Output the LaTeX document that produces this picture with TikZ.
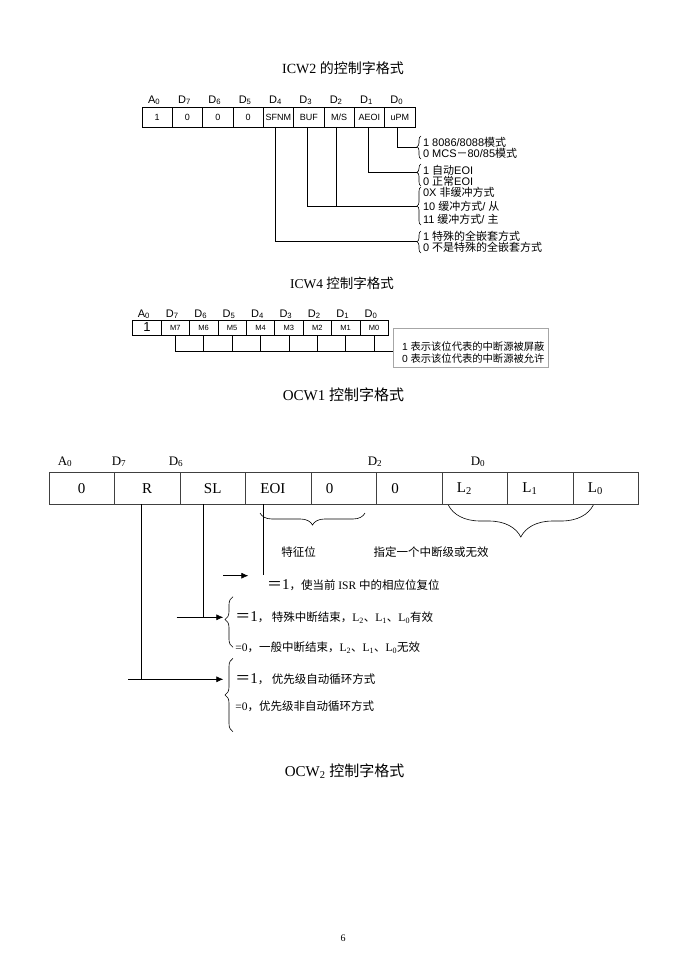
\documentclass[tikz,border=0pt]{standalone}
\usepackage{fontspec}
\setmainfont{Liberation Serif}
\newfontfamily\cjk{Noto Sans CJK SC}
\newfontfamily\arial{Liberation Sans}
\usetikzlibrary{positioning, arrows.meta, decorations.pathreplacing, calc}
\newcommand{\zh}[1]{{\cjk #1}}
\newcommand{\fsz}[1]{\fontsize{#1}{#1}\selectfont}

\begin{document}
\begin{tikzpicture}[
    x=1pt, y=-1pt,
    line width=0.6pt,
    cellA/.style={draw, minimum width=30.33pt, minimum height=20pt, inner sep=0pt, outer sep=0pt, font=\arial\fsz{9}},
    cellB/.style={draw, minimum width=28.4pt, minimum height=15pt, inner sep=0pt, outer sep=0pt, font=\arial\fsz{7.5}},
    cellC/.style={draw=black!75, minimum width=65.48pt, minimum height=32pt, inner sep=0pt, outer sep=0pt, font=\fsz{15}},
    cellL/.style={cellC, align=left, text width=35.48pt, inner xsep=15pt},
    hdrA/.style={font=\arial\fsz{11}, inner sep=0pt, anchor=base},
    hdrC/.style={font=\fsz{13}, inner sep=0pt, anchor=base},
    note/.style={font=\arial\fsz{11}, anchor=west, inner sep=0pt},
    noteB/.style={font=\arial\fsz{10.3}, anchor=west, inner sep=0pt},
    rule/.style={font=\fsz{11.5}, anchor=west, inner sep=0pt},
    cjkt/.style={font=\cjk\fsz{11.5}, inner sep=0pt},
    title/.style={font=\fsz{14}},
    brc/.style={decorate, decoration={brace, amplitude=4pt}},
    arr/.style={-{Latex[length=7pt,width=6pt]}}
]
\useasboundingbox (0,0) rectangle (688,971);

\node[title] (t1) at (343,68) {ICW2 \zh{的控制字格式}};
\foreach \t [count=\i] in {1,0,0,0,SFNM,BUF,{M/S},AEOI,uPM}
  \node[cellA] (a\i) at ({142+30.33*(\i-0.5)},117) {\t};
\foreach \h/\s [count=\i] in {A/0,D/7,D/6,D/5,D/4,D/3,D/2,D/1,D/0}
  \node[hdrA] (ha\i) at ([xshift=-3pt,yshift=4pt]a\i.north) {\h\textsubscript{\s}};
\coordinate (k1) at (417,147);
\coordinate (k2) at (417,172.3);
\coordinate (k3) at (417,206.7);
\coordinate (k4) at (417,241.7);
\draw ([xshift=-3pt]a9.south) |- (k1);
\draw ([xshift=-1pt]a8.south) |- (k2);
\draw ([xshift=-1.5pt]a6.south) |- (k3);
\draw ([xshift=-3pt]a7.south) -- ([xshift=-3pt]a7.south |- k3);
\draw ([xshift=-3.5pt]a5.south) |- (k4);
\draw[brc, decoration={aspect=0.53}] (421,159) -- (421,136);
\draw[brc, decoration={aspect=0.62}] (421,186) -- (421,164);
\draw[brc] (421,225) -- (421,187);
\draw[brc, decoration={aspect=0.51}] (421,253) -- (421,231);
\node[note] (n1) at (422.7,142.3) {1 8086/8088\zh{模式}};
\node[note] (n2) at (422.7,153.3) {0 MCS\zh{－}80/85\zh{模式}};
\node[note] (n3) at (422.7,170) {1 \zh{自动}EOI};
\node[note] (n4) at (422.7,181) {0 \zh{正常}EOI};
\node[note] (n5) at (422.7,192.7) {0X \zh{非缓冲方式}};
\node[note] (n6) at (422.7,206.7) {10 \zh{缓冲方式}/ \zh{从}};
\node[note] (n7) at (422.7,219) {11 \zh{缓冲方式}/ \zh{主}};
\node[note] (n8) at (422.7,236.7) {1 \zh{特殊的全嵌套方式}};
\node[note] (n9) at (422.7,247.7) {0 \zh{不是特殊的全嵌套方式}};

\node[title, font=\fsz{13.5}] (t2) at (342,283) {ICW4 \zh{控制字格式}};
\foreach \t [count=\i] in {{\fsz{13}1},M7,M6,M5,M4,M3,M2,M1,M0}
  \node[cellB] (c\i) at ({132.7+28.4*(\i-0.5)},327.5) {\t};
\foreach \h/\s [count=\i] in {A/0,D/7,D/6,D/5,D/4,D/3,D/2,D/1,D/0}
  \node[hdrA] (hc\i) at ([xshift=-3pt,yshift=3pt]c\i.north) {\h\textsubscript{\s}};
\node[draw=gray!70, minimum width=155pt, minimum height=38.4pt, inner sep=0pt, anchor=north west] (mb) at (393.3,328.3) {};
\coordinate (cm) at (176.7,351.7);
\foreach \i in {2,...,9}
  \draw (c\i.south) -- (c\i.south |- cm);
\draw (c2.south |- cm) -- (cm -| mb.west);
\node[noteB] (m1) at (401.7,346.7) {1 \zh{表示该位代表的中断源被屏蔽}};
\node[noteB] (m2) at (401.7,358.3) {0 \zh{表示该位代表的中断源被允许}};

\node[title, font=\fsz{15}] (t3) at (343.5,395) {OCW1 \zh{控制字格式}};

\node[hdrC] (h1) at (65,465) {A\textsubscript{0}};
\node[hdrC] (h2) at (119,465) {D\textsubscript{7}};
\node[hdrC] (h3) at (176,465) {D\textsubscript{6}};
\node[hdrC] (h4) at (375,465) {D\textsubscript{2}};
\node[hdrC] (h5) at (478,465) {D\textsubscript{0}};
\foreach \t [count=\i] in {0,R,SL}
  \node[cellC] (o\i) at ({49+65.48*(\i-0.5)},488.3) {\t};
\foreach \t [count=\i from 4] in {EOI,0,0,L\textsubscript{2},L\textsubscript{1},L\textsubscript{0}}
  \node[cellL] (o\i) at ({49+65.48*(\i-0.5)},488.3) {\t};
\draw[brc, decoration={amplitude=12pt}] (365,513) -- (260,513);
\draw[brc, decoration={amplitude=32pt}] (593.3,505) -- (448.3,505);
\node[cjkt] (s1) at (298.5,552.3) {特征位};
\node[cjkt] (s2) at (431,552.3) {指定一个中断级或无效};

\coordinate (ee) at (223.3,575.7);
\coordinate (q1) at (248.3,575.7);
\coordinate (ss) at (176.7,617.3);
\coordinate (q2) at (223.3,617.3);
\coordinate (rr) at (128.3,679.3);
\coordinate (q3) at (223.3,679.3);
\draw ([xshift=-14.8pt]o4.south) -- ++(0,71);
\draw ([xshift=-9.4pt]o3.south) -- ([xshift=-9.4pt]o3.south |- q2);
\draw ([xshift=-5.5pt]o2.south) -- ([xshift=-5.5pt]o2.south |- q3);
\draw[arr] (ee) -- (q1);
\draw[arr] (ss) -- (q2);
\draw[arr] (rr) -- (q3);
\draw[brc, decoration={amplitude=8pt, aspect=0.55}] (233,647.3) -- (233,596.7);
\draw[brc, decoration={amplitude=8pt}] (233,731.7) -- (233,658.3);
\node[rule] (r1) at (266.7,585) {{\fsz{15}\zh{＝}1}\zh{，使当前} ISR \zh{中的相应位复位}};
\node[rule] (r2) at (235,617.3) {{\fsz{15}\zh{＝}1}\zh{， 特殊中断结束，}L\textsubscript{2}\zh{、}L\textsubscript{1}\zh{、}L\textsubscript{0}\zh{有效}};
\node[rule] (r3) at (235,647.3) {=0\zh{，一般中断结束，}L\textsubscript{2}\zh{、}L\textsubscript{1}\zh{、}L\textsubscript{0}\zh{无效}};
\node[rule] (r4) at (235,679.3) {{\fsz{15}\zh{＝}1}\zh{， 优先级自动循环方式}};
\node[rule] (r5) at (235,706.7) {=0\zh{，优先级非自动循环方式}};

\node[title, font=\fsz{15}] (t4) at (344.5,771) {OCW\textsubscript{2} \zh{控制字格式}};
\node[font=\fsz{10}] (pg) at (343,938) {6};
\end{tikzpicture}
\end{document}
